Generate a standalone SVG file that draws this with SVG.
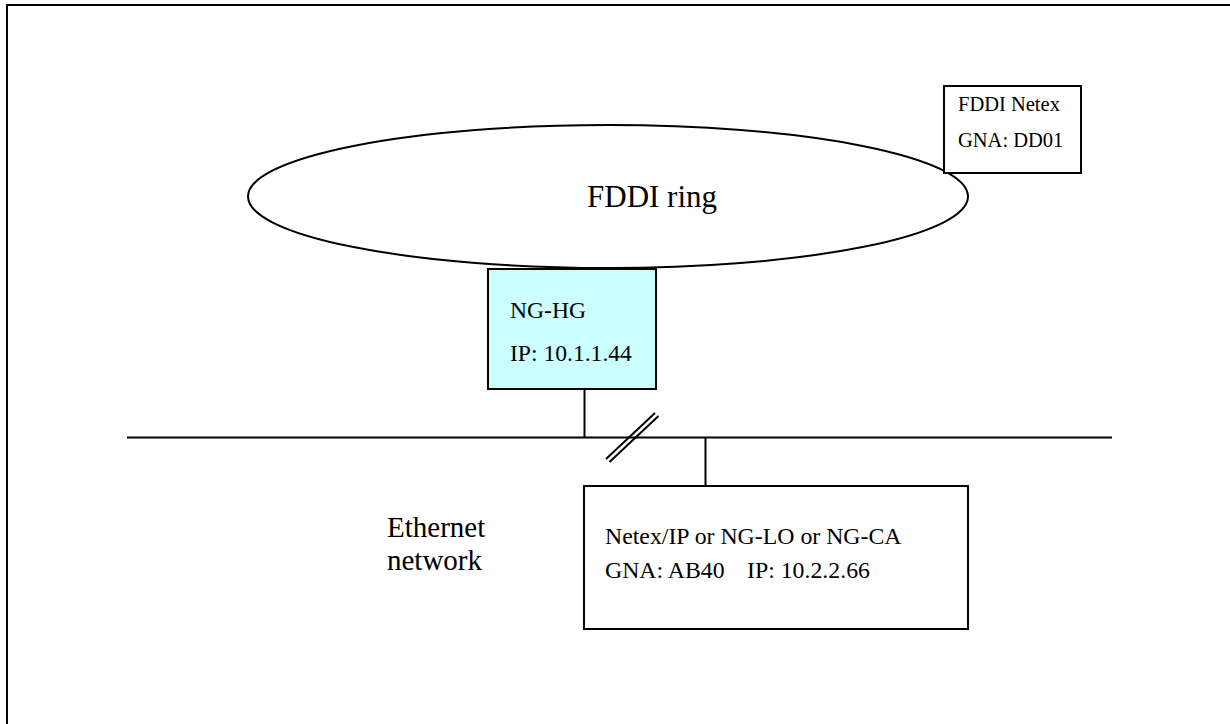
<svg xmlns="http://www.w3.org/2000/svg" width="1230" height="724" viewBox="0 0 1230 724">
<style>
.ln{stroke:#000;stroke-width:2;fill:none}
.box{stroke:#000;stroke-width:2;fill:#fff}
.t{font-family:"Liberation Serif","Times New Roman",serif;fill:#000}
</style>
<rect x="0" y="0" width="1230" height="724" fill="#fff"/>
<rect id="frame" x="7" y="5" width="1240" height="740" class="ln"/>
<g id="connectors">
<line x1="127" y1="437.5" x2="1112" y2="437.5" class="ln"/>
<line x1="584.5" y1="389" x2="584.5" y2="437.5" class="ln"/>
<line x1="705.5" y1="437.5" x2="705.5" y2="486" class="ln"/>
<line x1="606" y1="459" x2="655" y2="413" class="ln"/>
<line x1="609.5" y1="462" x2="658.5" y2="416" class="ln"/>
</g>
<g id="fddi-ring">
<ellipse cx="608" cy="196.5" rx="360" ry="71.5" class="ln"/>
<text x="587" y="207" class="t" font-size="31">FDDI ring</text>
</g>
<g id="fddi-netex">
<rect x="944" y="86" width="137" height="87" class="box"/>
<text x="958" y="111" class="t" font-size="20.5">FDDI Netex</text>
<text x="958" y="147" class="t" font-size="20.5">GNA: DD01</text>
</g>
<g id="ng-hg">
<rect x="488" y="269" width="168" height="120" stroke="#000" stroke-width="2" fill="#CCFFFF"/>
<text x="510" y="318" class="t" font-size="23.6">NG-HG</text>
<text x="510" y="361" class="t" font-size="23.6">IP: 10.1.1.44</text>
</g>
<g id="ethernet-label">
<text x="387" y="537" class="t" font-size="29">Ethernet</text>
<text x="387" y="570" class="t" font-size="29">network</text>
</g>
<g id="netex-ip">
<rect x="584" y="486" width="384" height="143" class="box"/>
<text x="605" y="544" class="t" font-size="23.8">Netex/IP or NG-LO or NG-CA</text>
<text x="605" y="578" class="t" font-size="23.8">GNA: AB40</text>
<text x="747" y="578" class="t" font-size="23.8">IP: 10.2.2.66</text>
</g>
</svg>
